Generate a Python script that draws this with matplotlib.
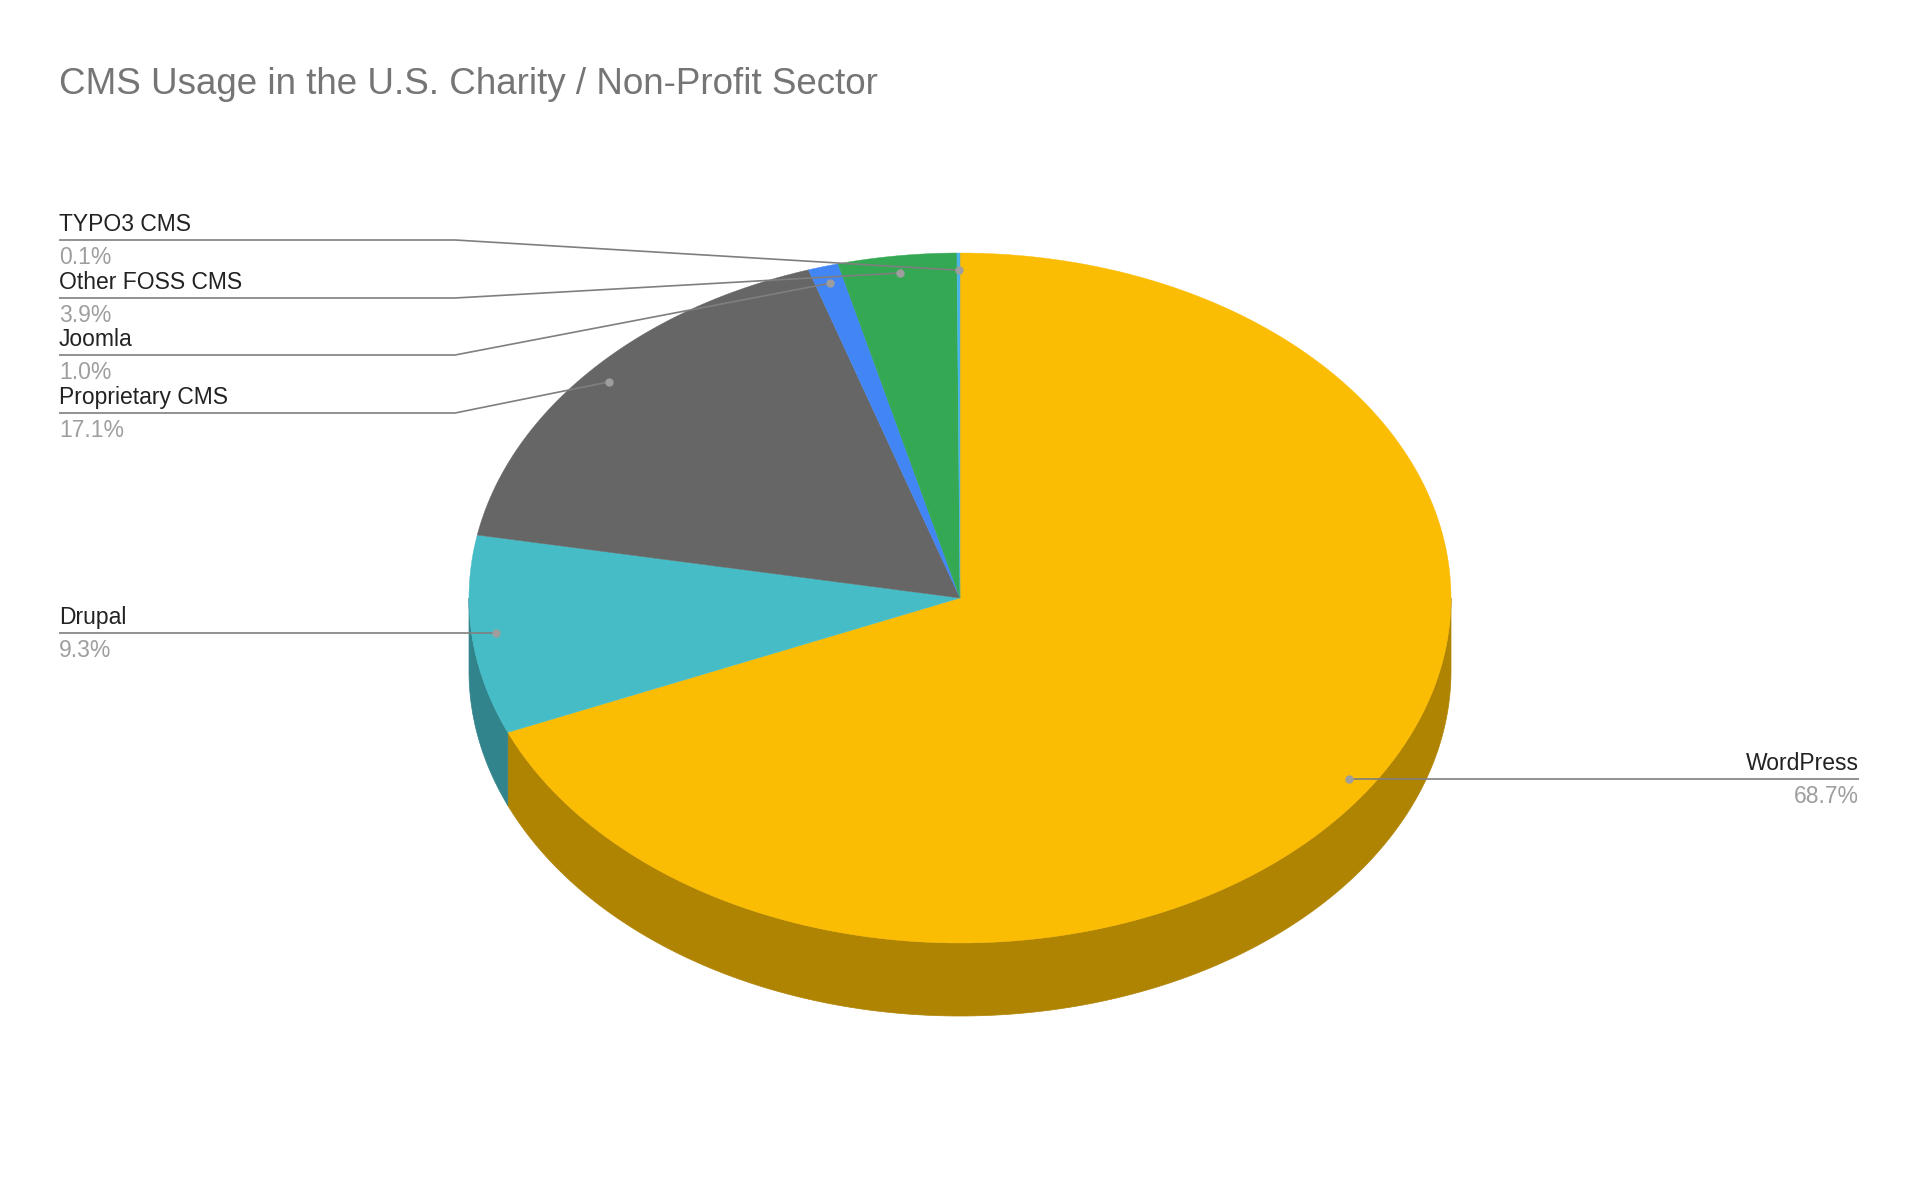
import numpy as np
import matplotlib
matplotlib.use("Agg")
import matplotlib.pyplot as plt
from matplotlib.patches import Polygon

plt.rcParams['font.family'] = ['Liberation Sans', 'DejaVu Sans']

# data
labels = ["WordPress", "Drupal", "Proprietary CMS", "Joomla", "Other FOSS CMS", "TYPO3 CMS"]
values = [68.7, 9.3, 17.1, 1.0, 3.9, 0.1]
top_colors = ["#fbbc04", "#46bdc6", "#666666", "#4285f4", "#34a853", "#4ab4e6"]
title = "CMS Usage in the U.S. Charity / Non-Profit Sector"

# layout in pixels (figure is 1920x1186)
W, H = 1920, 1186
cx, cy = 960, 598
rx, ry = 491, 345
depth = 73
left_x, elbow_x, right_x = 59, 455, 1859
# stacked label lines on the left side
label_line_y = {"TYPO3 CMS": 240, "Other FOSS CMS": 298, "Joomla": 355, "Proprietary CMS": 413}


def darken(hex_color, f=0.7):
    c = np.array(matplotlib.colors.to_rgb(hex_color))
    return tuple(c * f)


def ellipse_pts(a0, a1, r=1.0, n=200, dy=0.0):
    t = np.radians(np.linspace(a0, a1, n))
    return np.column_stack([cx + rx * r * np.sin(t), cy + dy - ry * r * np.cos(t)])


fig = plt.figure(figsize=(W / 100, H / 100), dpi=100)
ax = fig.add_axes([0, 0, 1, 1])
ax.set_xlim(0, W)
ax.set_ylim(H, 0)
ax.axis("off")

total = sum(values)
bounds = np.concatenate([[0], np.cumsum(values) / total * 360])

# side walls (only the front half, 90..270 deg clockwise from top)
for i, col in enumerate(top_colors):
    a0, a1 = max(bounds[i], 90), min(bounds[i + 1], 270)
    if a1 <= a0:
        continue
    upper = ellipse_pts(a0, a1)
    lower = ellipse_pts(a0, a1, dy=depth)[::-1]
    ax.add_patch(Polygon(np.vstack([upper, lower]), closed=True,
                         facecolor=darken(col), edgecolor=darken(col), lw=0.5))

# top face
for i, col in enumerate(top_colors):
    arc = ellipse_pts(bounds[i], bounds[i + 1])
    ax.add_patch(Polygon(np.vstack([[cx, cy], arc]), closed=True,
                         facecolor=col, edgecolor=col, lw=0.3))

# labels with leader lines
for i, name in enumerate(labels):
    mid = np.radians((bounds[i] + bounds[i + 1]) / 2)
    dx = cx + rx * 0.95 * np.sin(mid)
    dy = cy - ry * 0.95 * np.cos(mid)
    ly = label_line_y.get(name, dy)
    if dx < cx:
        xs = [left_x, elbow_x, dx] if name in label_line_y else [left_x, dx]
        ys = [ly, ly, dy] if name in label_line_y else [ly, dy]
        tx, ha = left_x, "left"
    else:
        xs, ys = [dx, right_x], [ly, ly]
        tx, ha = right_x, "right"
    ax.plot(xs, ys, color="#7f7f7f", lw=1.2, solid_capstyle="butt", zorder=5)
    ax.plot([dx], [dy], "o", color="#9e9e9e", ms=5, zorder=6)
    ax.text(tx, ly - 4, name, ha=ha, va="bottom", fontsize=16.5, color="#222222")
    ax.text(tx, ly + 6, f"{values[i]:.1f}%", ha=ha, va="top", fontsize=16.5, color="#9e9e9e")

ax.text(left_x, 84, title, ha="left", va="center", fontsize=26.5, color="#757575")

fig.savefig("out.png", dpi=100, facecolor="white")
